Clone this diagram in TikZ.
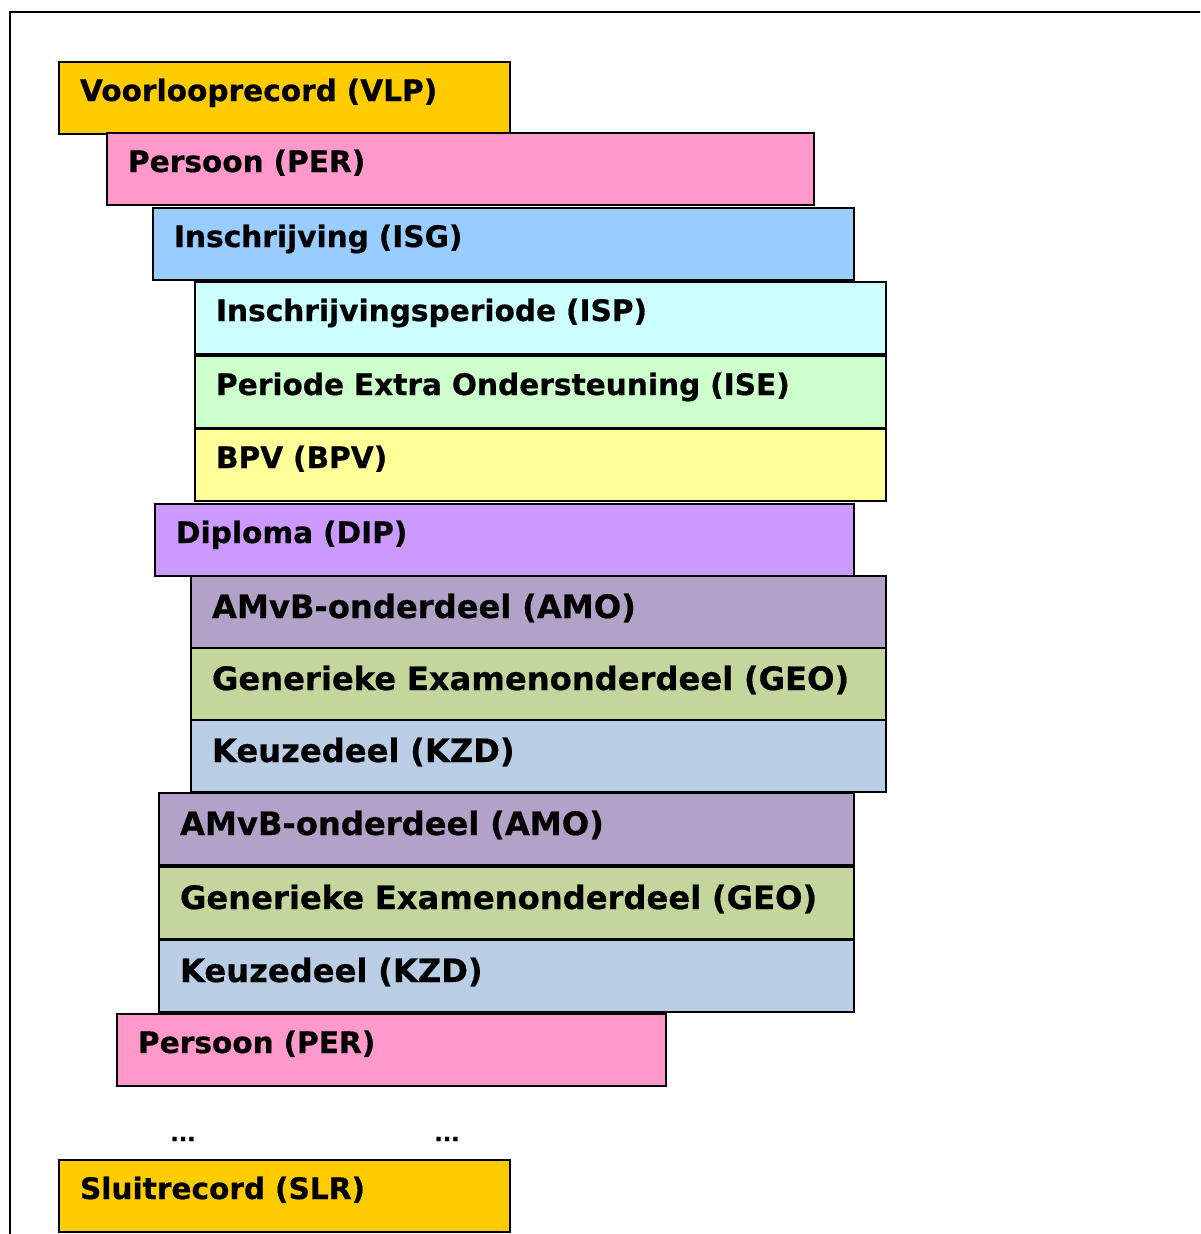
\documentclass[tikz,border=0pt]{standalone}
\usepackage{fontspec}
\setmainfont{DejaVu Sans}
\newfontfamily\heavy[FakeBold=0.6]{DejaVu Sans Bold}
\definecolor{cVLP}{HTML}{FFCC00}
\definecolor{cPER}{HTML}{FF99CC}
\definecolor{cISG}{HTML}{99CCFF}
\definecolor{cISP}{HTML}{CCFFFF}
\definecolor{cISE}{HTML}{CCFFCC}
\definecolor{cBPV}{HTML}{FFFF99}
\definecolor{cDIP}{HTML}{CC99FF}
\definecolor{cAMO}{HTML}{B3A2C7}
\definecolor{cGEO}{HTML}{C3D69B}
\definecolor{cKZD}{HTML}{B9CDE5}
\tikzset{
  rec/.style={draw=black, line width=2pt, anchor=north west, inner xsep=21pt, inner ysep=0pt,
    text height=39pt, text depth=33pt, align=left, font=\heavy\fontsize{29.6}{34}\selectfont},
  big/.style={font=\heavy\fontsize{32.2}{38}\selectfont, text height=42pt, text depth=30pt},
  dotsty/.style={font=\heavy\fontsize{22}{26}\selectfont, inner sep=0pt}
}
\begin{document}
\begin{tikzpicture}[x=1pt,y=-1pt]
\useasboundingbox (0,0) rectangle (1200,1234);
\clip (0,0) rectangle (1200,1234);
\fill[white] (0,0) rectangle (1200,1234);
\draw[line width=2pt] (10,1300) -- (10,12) -- (1300,12);
\node[rec, fill=cVLP, text width=409pt] (vlp) at (58,61) {Voorlooprecord (VLP)};
\node[rec, fill=cPER, text width=665pt] (per) at (106,132) {Persoon (PER)};
\node[rec, fill=cISG, text width=659pt] (isg) at (152,207) {Inschrijving (ISG)};
\node[rec, fill=cISP, text width=649pt] (isp) at (194,281) {Inschrijvingsperiode (ISP)};
\node[rec, fill=cISE, text width=649pt] (ise) at (194,355) {Periode Extra Ondersteuning (ISE)};
\node[rec, fill=cBPV, text width=649pt] (bpv) at (194,428) {BPV (BPV)};
\node[rec, fill=cDIP, text width=657pt] (dip) at (154,503) {Diploma (DIP)};
\node[rec, big, fill=cAMO, text width=653pt] (amo) at (190,575) {AMvB-onderdeel (AMO)};
\node[rec, big, fill=cGEO, text width=653pt] (geo) at (190,647) {Generieke Examenonderdeel (GEO)};
\node[rec, big, fill=cKZD, text width=653pt] (kzd) at (190,719) {Keuzedeel (KZD)};
\node[rec, big, fill=cAMO, text width=653pt] (amob) at (158,792) {AMvB-onderdeel (AMO)};
\node[rec, big, fill=cGEO, text width=653pt] (geob) at (158,866) {Generieke Examenonderdeel (GEO)};
\node[rec, big, fill=cKZD, text width=653pt] (kzdb) at (158,939) {Keuzedeel (KZD)};
\node[rec, fill=cPER, text width=507pt] (perb) at (116,1013) {Persoon (PER)};
\node[dotsty] (d1) at (183,1139) {...};
\node[dotsty] (d2) at (447,1139) {...};
\node[rec, fill=cVLP, text width=409pt] (slr) at (58,1159) {Sluitrecord (SLR)};
\end{tikzpicture}
\end{document}
